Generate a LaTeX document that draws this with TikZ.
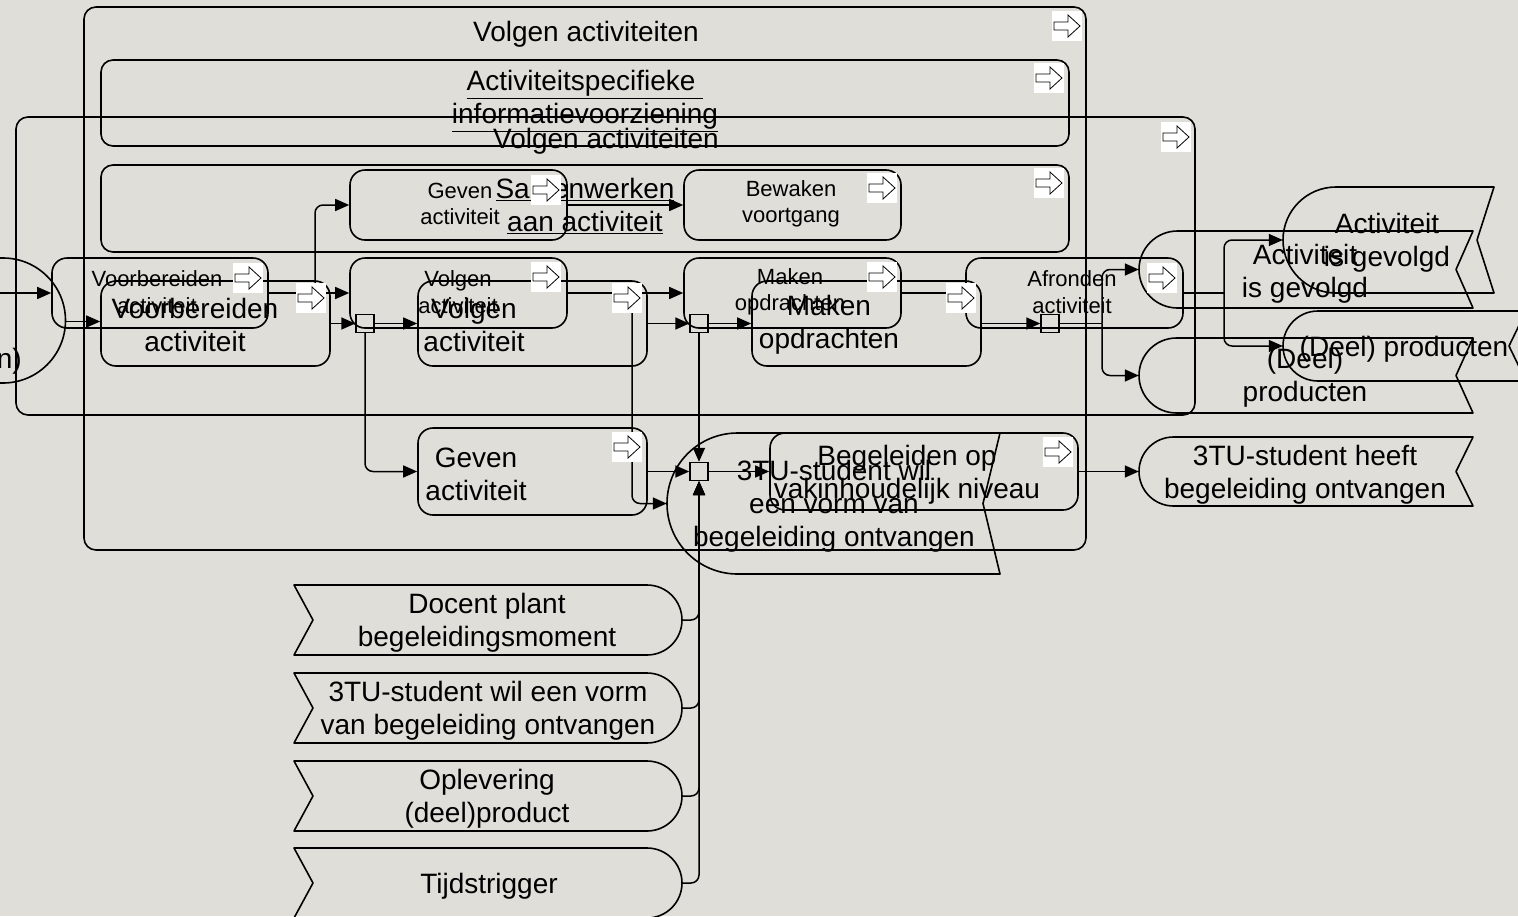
\documentclass[tikz,border=0pt]{standalone}
\usepackage{fontspec}
\setmainfont{Liberation Sans}
\usetikzlibrary{arrows.meta}
\definecolor{bg}{RGB}{224,222,217}
\newcommand\LFont{\fontsize{28}{33}\selectfont}
\newcommand\SFont{\fontsize{22}{26.5}\selectfont}
\tikzset{
  arricon/.pic={
    \fill[white] (-15,-15) rectangle (15,15);
    \draw[line width=0.8pt, line join=miter] (-13,-4) -- (1,-4) -- (1,-11) -- (13,0) -- (1,11) -- (1,4) -- (-13,4) -- cycle;
  },
  shp/.style={draw, line width=1.6pt, line join=round},
  pbox/.style={draw, rounded corners=15pt, inner sep=0pt, line width=1.6pt},
  obox/.style={draw, rounded corners=12pt, inner sep=0pt, line width=1.6pt},
  junc/.style={draw, inner sep=0pt, minimum size=18pt, line width=1.4pt},
  arr/.style={-{Triangle[length=14pt,width=12pt]}, line width=1.5pt, rounded corners=8pt},
  ln/.style={line width=1.5pt, rounded corners=8pt},
  lt/.style={align=center, inner sep=0pt, font=\LFont, yshift=-3pt},
  st/.style={align=center, inner sep=0pt, font=\SFont, yshift=-1pt}
}
\newcommand\EndEv[5]{%
  \pgfmathsetmacro\evr{((#4)-(#2))/2}%
  \pgfmathsetmacro\evm{((#4)+(#2))/2}%
  \draw[shp] ({(#1)+\evr},#2) -- (#3,#2) -- ({(#3)-17},\evm) -- (#3,#4) -- ({(#1)+\evr},#4) arc[start angle=90,end angle=270,radius=\evr] -- cycle;%
  \node[inner sep=0pt,minimum width={(#3)-(#1)},minimum height={(#4)-(#2)}] (#5) at ({((#1)+(#3))/2},\evm) {};%
}
\newcommand\TrigEv[5]{%
  \pgfmathsetmacro\evr{((#4)-(#2))/2}%
  \pgfmathsetmacro\evm{((#4)+(#2))/2}%
  \draw[shp] (#1,#2) -- ({(#3)-\evr},#2) arc[start angle=270,end angle=450,radius=\evr] -- (#1,#4) -- ({(#1)+19},\evm) -- cycle;%
  \node[inner sep=0pt,minimum width={(#3)-(#1)},minimum height={(#4)-(#2)}] (#5) at ({((#1)+(#3))/2},\evm) {};%
}
\begin{document}
\begin{tikzpicture}[x=1pt,y=-1pt]
\fill[bg] (0,0) rectangle (1518,916);
\useasboundingbox (0,0) rectangle (1518,916);
\clip (0,0) rectangle (1518,916);

% containers
\node[obox, minimum width=1002pt, minimum height=543pt] (ob1) at (585,278.5) {};
\node[obox, minimum width=968pt, minimum height=86pt] (r1) at (585,103) {};
\node[obox, minimum width=968pt, minimum height=87pt] (r2) at (585,208.5) {};
\node[obox, minimum width=1179pt, minimum height=298pt] (ob2) at (605.5,266) {};

% small-layer processes
\node[pbox, minimum width=217pt, minimum height=70pt] (sg) at (458.5,205) {};
\node[pbox, minimum width=217pt, minimum height=70pt] (sb) at (792.5,205) {};
\node[pbox, minimum width=216pt, minimum height=70pt] (sa1) at (160,293) {};
\node[pbox, minimum width=217pt, minimum height=70pt] (sa2) at (458.5,293) {};
\node[pbox, minimum width=217pt, minimum height=70pt] (sa3) at (792.5,293) {};
\node[pbox, minimum width=217pt, minimum height=70pt] (sa4) at (1074.5,293) {};

% large-layer processes
\node[pbox, minimum width=229pt, minimum height=85pt] (lb1) at (215.5,323.5) {};
\node[pbox, minimum width=229pt, minimum height=85pt] (lb2) at (532.5,323.5) {};
\node[pbox, minimum width=229pt, minimum height=85pt] (lb3) at (866.5,323.5) {};
\node[pbox, minimum width=229pt, minimum height=87pt] (lb6) at (532.5,471.5) {};
\node[pbox, minimum width=308pt, minimum height=77pt] (lb7) at (924,471.5) {};

% events
\EndEv{1283}{187}{1494}{293}{sa5}
\EndEv{1283}{311}{1526}{381}{sa6}
\EndEv{1139}{231}{1473}{308}{lb4}
\EndEv{1139}{338}{1473}{413}{lb5}
\EndEv{1139}{437}{1473}{506}{e3}
\EndEv{667}{433}{1000}{574}{e2}
\TrigEv{-300}{258}{65.5}{383}{ev0}
\TrigEv{294}{585}{682}{655}{t1}
\TrigEv{294}{673}{682}{743}{t2}
\TrigEv{294}{761}{682}{831}{t3}
\TrigEv{294}{848}{682}{918}{t4}

% junctions
\node[junc] (j1) at (365,323.5) {};
\node[junc] (j2) at (699,323.5) {};
\node[junc] (j3) at (1050,323.5) {};
\node[junc] (j4) at (699,471.5) {};

% helper coordinates
\coordinate (cin) at (0,293);
\coordinate (b1) at (315,293);
\coordinate (b2) at (1224,293);
\coordinate (b3) at (1102,323.5);
\coordinate (c2) at (632,313);
\coordinate (e0) at (65.5,321.5);

% connectors
\draw[arr] (cin) -- (sa1.west);
\draw[arr] (e0) -- (lb1.west |- e0);
\draw[arr] (sa1.east) -- (sa2.west);
\draw[arr] (b1) |- (sg.west);
\draw[arr] (sg.east) -- (sb.west);
\draw[arr] (sa2.east) -- (sa3.west);
\draw[arr] (sa3.east) -- (sa4.west);
\draw[ln] (sa4.east) -- (b2);
\draw[arr] (b2) |- (sa5.west);
\draw[arr] (b2) |- (sa6.west);
\draw[arr] (lb1.east) -- (j1.west);
\draw[arr] (j1.east) -- (lb2.west);
\draw[arr] (j1.south) |- (lb6.west);
\draw[arr] (lb2.east) -- (j2.west);
\draw[arr] (j2.east) -- (lb3.west);
\draw[arr] (j2.south) -- (j4.north);
\draw[arr] (lb6.east) -- (j4.west);
\draw[arr] (j4.east) -- (lb7.west);
\draw[arr] (lb7.east) -- (e3.west);
\draw[arr] (c2) |- (e2.west);
\draw[arr] (lb3.east) -- (j3.west);
\draw[ln] (j3.east) -- (b3);
\draw[arr] (b3) |- (lb4.west);
\draw[arr] (b3) |- (lb5.west);
\foreach \t in {t1,t2,t3,t4} {\draw[arr] (\t.east) -| (j4.south);}

% large texts
\node[lt] (x_ob1) at (586,31) {Volgen activiteiten};
\node[lt] (x_r1) at (585,98) {\underline{Activiteitspecifieke }\\\underline{informatievoorziening}};
\node[lt] (x_ob2) at (606,138) {Volgen activiteiten};
\node[lt] (x_r2) at (585,203) {\underline{Samenwerken}\\\underline{aan activiteit}};
\node[lt] (x_lb1) at (195,322) {Voorbereiden\\activiteit};
\node[lt] (x_lb2) at (474,322) {Volgen\\activiteit};
\node[lt] (x_lb3) at (829,322) {Maken\\opdrachten};
\node[lt] (x_lb6) at (476,471.5) {Geven\\activiteit};
\node[lt] (x_lb7) at (907,471.5) {Begeleiden op\\vakinhoudelijk niveau};
\node[lt] (x_e2) at (834,503.5) {3TU-student wil\\een vorm van\\begeleiding ontvangen};
\node[lt] (x_e3) at (1305,471.5) {3TU-student heeft\\begeleiding ontvangen};
\node[lt] (x_lb4) at (1305,271) {Activiteit\\is gevolgd};
\node[lt] (x_lb5) at (1305,375) {(Deel)\\producten};
\node[lt] (x_sa5) at (1387,240) {Activiteit\\is gevolgd};
\node[lt] (x_sa6) at (1404,346) {(Deel) producten};
\node[lt] (x_t1) at (487,620) {Docent plant\\begeleidingsmoment};
\node[lt] (x_t2) at (488,708) {3TU-student wil een vorm\\van begeleiding ontvangen};
\node[lt] (x_t3) at (487,796) {Oplevering\\(deel)product};
\node[lt] (x_t4) at (489,883) {Tijdstrigger};
\node[lt, anchor=east] (x_ev0) at (22,358) {n)};

% small texts
\node[st] (x_sa1) at (157,291) {Voorbereiden\\activiteit};
\node[st] (x_sa2) at (458,291) {Volgen\\activiteit};
\node[st] (x_sa3) at (790,291) {Maken\\opdrachten};
\node[st] (x_sa4) at (1072,291) {Afronden\\activiteit};
\node[st] (x_sg) at (460,203) {Geven\\activiteit};
\node[st] (x_sb) at (791,203) {Bewaken\\voortgang};

% icons
\pic at (1067,26) {arricon};
\pic at (1049,78) {arricon};
\pic at (1176,137) {arricon};
\pic at (1049,183) {arricon};
\pic at (546,190) {arricon};
\pic at (882,188) {arricon};
\pic at (248,278) {arricon};
\pic at (546,277) {arricon};
\pic at (882,277) {arricon};
\pic at (1162,278) {arricon};
\pic at (311,298) {arricon};
\pic at (627,298) {arricon};
\pic at (961,298) {arricon};
\pic at (627,447) {arricon};
\pic at (1058,452) {arricon};
\end{tikzpicture}
\end{document}
